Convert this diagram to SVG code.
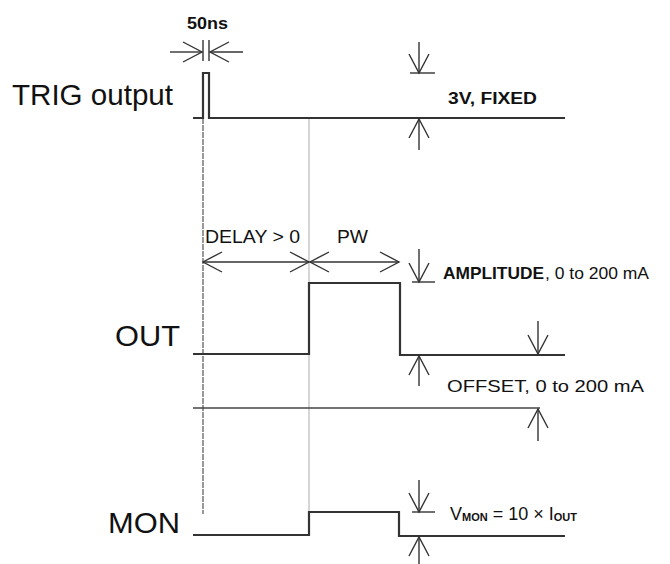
<svg xmlns="http://www.w3.org/2000/svg" width="670" height="564" viewBox="0 0 670 564">
<defs>
<marker id="ah" viewBox="-21 -11 23 22" refX="0" refY="0" markerWidth="23" markerHeight="22" markerUnits="userSpaceOnUse" orient="auto">
<path d="M-19,-10 L0,0 L-19,10" fill="none" stroke="#333" stroke-width="1.4"/>
</marker>
<style>
text{font-family:"Liberation Sans",Arial,Helvetica,sans-serif;fill:#111}
.big{font-size:29px}
.lbl{font-size:17px}
.b{font-weight:bold}
.wave{fill:none;stroke:#333;stroke-width:2.2;stroke-linejoin:miter}
.dim{fill:none;stroke:#333;stroke-width:1.4}
.arr{fill:none;stroke:#333;stroke-width:1.4;marker-end:url(#ah)}
.ref1{fill:none;stroke:#555;stroke-width:1.2;stroke-dasharray:6 1}
.ref2{fill:none;stroke:#bbb;stroke-width:1.2}
.refh{fill:none;stroke:#444;stroke-width:1.3}
</style>
</defs>

<g id="reference-lines">
<line class="ref2" x1="309" y1="118" x2="309" y2="513"/>
<line class="ref1" x1="203" y1="118" x2="203" y2="514"/>
<line class="refh" x1="193" y1="408" x2="540" y2="408"/>
</g>

<g id="trig">
<text class="big" x="12" y="105" textLength="161" lengthAdjust="spacingAndGlyphs">TRIG output</text>
<polyline class="wave" points="193,118 203,118 203,73 209,73 209,118 565,118"/>
</g>

<g id="out">
<text class="big" x="115" y="346" textLength="65" lengthAdjust="spacingAndGlyphs">OUT</text>
<polyline class="wave" points="193,354 309,354 309,283 400,283 400,355 565,355"/>
</g>

<g id="mon">
<text class="big" x="108" y="533" style="font-size:30px" textLength="72" lengthAdjust="spacingAndGlyphs">MON</text>
<polyline class="wave" points="193,535 309,535 309,512 399,512 399,536 565,536"/>
</g>

<g id="connectors">
<!-- 50ns -->
<line class="dim" x1="203" y1="40" x2="203" y2="61"/>
<line class="dim" x1="209" y1="40" x2="209" y2="61"/>
<line class="arr" x1="170" y1="52" x2="202" y2="52"/>
<line class="arr" x1="243" y1="52" x2="210" y2="52"/>
<!-- 3V fixed -->
<line class="arr" x1="419" y1="42" x2="419" y2="73"/>
<line class="dim" x1="410" y1="73" x2="435" y2="73"/>
<line class="arr" x1="419" y1="150" x2="419" y2="119"/>
<!-- delay / pw -->
<line class="arr" x1="256" y1="262" x2="203" y2="262"/>
<line class="arr" x1="256" y1="262" x2="309" y2="262"/>
<line class="arr" x1="354" y1="262" x2="310" y2="262"/>
<line class="arr" x1="354" y1="262" x2="399" y2="262"/>
<!-- amplitude -->
<line class="arr" x1="419" y1="249" x2="419" y2="282"/>
<line class="dim" x1="412" y1="282" x2="435" y2="282"/>
<line class="arr" x1="419" y1="386" x2="419" y2="356"/>
<!-- offset -->
<line class="arr" x1="538" y1="321" x2="538" y2="354"/>
<line class="arr" x1="538" y1="441" x2="538" y2="409"/>
<!-- mon -->
<line class="arr" x1="419" y1="480" x2="419" y2="512"/>
<line class="dim" x1="412" y1="512" x2="435" y2="512"/>
<line class="arr" x1="419" y1="566" x2="419" y2="537"/>
</g>

<g id="labels">
<text class="lbl b" x="187" y="29" textLength="41" lengthAdjust="spacingAndGlyphs">50ns</text>
<text class="lbl b" x="448" y="104" style="font-size:16px" textLength="89" lengthAdjust="spacingAndGlyphs">3V, FIXED</text>
<text class="lbl" x="205" y="243" style="font-size:18px" textLength="95" lengthAdjust="spacingAndGlyphs">DELAY &gt; 0</text>
<text class="lbl" x="337" y="243" style="font-size:18px" textLength="31" lengthAdjust="spacingAndGlyphs">PW</text>
<text class="lbl b" x="443" y="279" textLength="101" lengthAdjust="spacingAndGlyphs">AMPLITUDE</text>
<text class="lbl" x="545" y="279" textLength="104" lengthAdjust="spacingAndGlyphs">, 0 to 200 mA</text>
<text class="lbl" x="447" y="392" textLength="197" lengthAdjust="spacingAndGlyphs">OFFSET, 0 to 200 mA</text>
<text class="lbl" x="450" y="520" style="font-size:18px">V<tspan style="font-size:11px;font-weight:bold" dy="1">MON</tspan><tspan dy="-1"> = 10 × I</tspan><tspan style="font-size:11px;font-weight:bold" dy="1">OUT</tspan></text>
</g>
</svg>
